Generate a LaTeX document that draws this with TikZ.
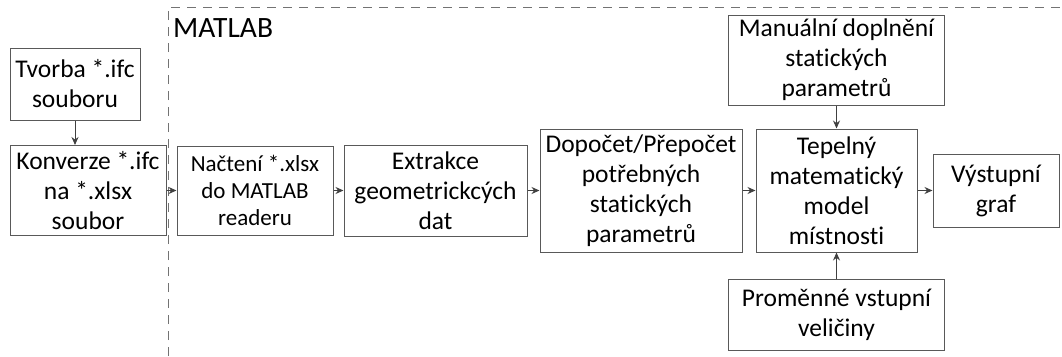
\documentclass[tikz,border=0pt]{standalone}
\usepackage{fontspec}
\setmainfont{Carlito}[Ligatures=NoCommon]
\usetikzlibrary{arrows.meta}
\tikzset{
    blok/.style={draw=black!65, line width=1pt, align=center, inner sep=2pt,
        font=\fontsize{25.5}{30}\selectfont},
    sipka/.style={-{Stealth[length=8pt,width=7pt]}, draw=black!75, line width=1pt}
}

\begin{document}
\begin{tikzpicture}[x=1pt,y=-1pt]
        \useasboundingbox (0,0) rectangle (1062,356);

        % oblast MATLAB
        \draw[black!55, line width=0.8pt, dash pattern=on 9pt off 7pt] (168,356) -- (168,7) -- (1062,7);
        \draw (173,37) node[anchor=base west, inner sep=0pt, font=\fontsize{29.5}{34}\selectfont](matlab){MATLAB};

        \draw (75,84) node[blok, minimum width=130pt, minimum height=72pt](tvorba){Tvorba *.ifc\\souboru};
        \draw (88,190.5) node[blok, minimum width=156pt, minimum height=90pt](konverze){Konverze *.ifc\\na *.xlsx\\soubor};
        \draw (255,190.5) node[blok, minimum width=156pt, minimum height=89pt, font=\fontsize{23}{27}\selectfont](nacteni){Načtení *.xlsx\\do MATLAB\\readeru};
        \draw (435.5,190.5) node[blok, minimum width=183pt, minimum height=91pt](extrakce){Extrakce\\geometrickcých\\dat};
        \draw (641,190.5) node[blok, minimum width=202pt, minimum height=123pt](dopocet){Dopočet/Přepočet\\potřebných\\statických\\parametrů};
        \draw (836.5,190.5) node[blok, minimum width=161pt, minimum height=123pt](tepelny){Tepelný\\matematický\\model\\místnosti};
        \draw (996,190.5) node[blok, minimum width=126pt, minimum height=73pt](vystup){Výstupní\\graf};
        \draw (836.5,60) node[blok, minimum width=216pt, minimum height=90pt](manual){Manuální doplnění\\statických\\parametrů};
        \draw (836.5,314.5) node[blok, minimum width=216pt, minimum height=71pt](promenne){Proměnné vstupní\\veličiny};

        \draw[sipka] (tvorba) -- (tvorba |- konverze.north);
        \draw[sipka] (konverze) -- (nacteni);
        \draw[sipka] (nacteni) -- (extrakce);
        \draw[sipka] (extrakce) -- (dopocet);
        \draw[sipka] (dopocet) -- (tepelny);
        \draw[sipka] (tepelny) -- (vystup);
        \draw[sipka] (manual) -- (tepelny);
        \draw[sipka] (promenne) -- (tepelny);
    \end{tikzpicture}
\end{document}
